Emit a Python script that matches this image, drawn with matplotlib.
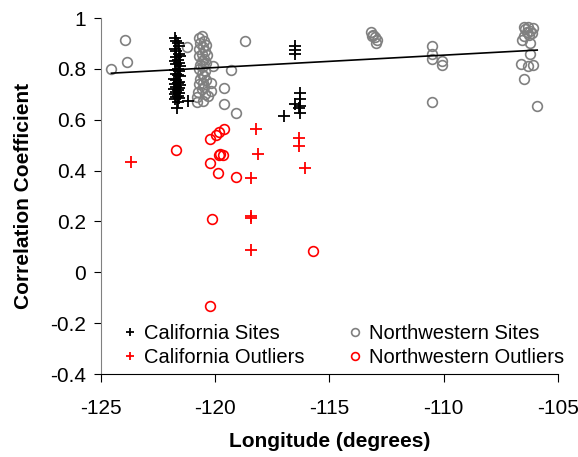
import matplotlib
matplotlib.use("Agg")
import matplotlib.pyplot as plt
import numpy as np

plt.rcParams["font.family"] = ["Liberation Sans", "DejaVu Sans"]
plt.rcParams["axes.unicode_minus"] = False

# California sites (black +)
ca_lon = [-121.75, -121.7, -121.65, -121.6, -121.75, -121.7, -121.6, -121.55, -121.7, -121.65,
          -121.75, -121.6, -121.7, -121.55, -121.65, -121.75, -121.6, -121.7, -121.65, -121.55,
          -121.8, -121.7, -121.6, -121.65, -121.75, -121.55, -121.7, -121.6, -121.8, -121.65,
          -121.7, -121.6, -121.75, -121.65, -121.7, -121.6, -121.75, -121.65,
          -121.2, -121.67,
          -116.5, -116.5, -116.5,
          -116.3, -116.3, -116.5, -116.3, -116.35, -116.3, -117.0]
ca_r = [0.92, 0.91, 0.90, 0.89, 0.88, 0.87, 0.86, 0.85, 0.845, 0.835,
        0.83, 0.825, 0.82, 0.81, 0.80, 0.795, 0.79, 0.78, 0.775, 0.77,
        0.76, 0.755, 0.75, 0.745, 0.74, 0.735, 0.73, 0.725, 0.72, 0.715,
        0.71, 0.705, 0.70, 0.695, 0.69, 0.685, 0.68, 0.67,
        0.675, 0.645,
        0.89, 0.875, 0.86,
        0.705, 0.68, 0.66, 0.655, 0.645, 0.625, 0.615]

# California outliers (red +)
cao_lon = [-123.7, -118.2, -118.15, -118.45, -118.45, -118.45, -118.45, -116.35, -116.35, -116.05]
cao_r = [0.435, 0.565, 0.465, 0.37, 0.22, 0.215, 0.087, 0.528, 0.496, 0.41]

# Northwestern sites (grey o)
nw_lon = [-124.55, -123.95, -123.85, -121.25, -118.7,
          -120.6, -120.7, -120.5, -120.65, -120.4, -120.55, -120.7, -120.45, -120.6, -120.35,
          -120.7, -120.5, -120.6, -120.4, -120.65, -120.55, -120.7, -120.45, -120.6, -120.5,
          -120.65, -120.4, -120.55, -120.7, -120.5, -120.6, -120.75, -120.45, -120.8, -120.55,
          -120.1, -119.3, -120.2, -120.2, -119.6, -120.3, -119.6, -119.1, -120.8,
          -113.2, -113.1, -113.0, -112.9, -113.15, -112.95,
          -110.5, -110.5, -110.5, -110.05, -110.05, -110.5,
          -106.5, -106.3, -106.1, -106.45, -106.2, -106.35, -106.15, -106.5, -106.25,
          -106.55, -106.2, -106.2, -106.6, -106.3, -106.1, -106.5, -105.9]
nw_r = [0.80, 0.913, 0.828, 0.886, 0.909,
        0.93, 0.92, 0.91, 0.90, 0.895, 0.885, 0.88, 0.87, 0.86, 0.855,
        0.85, 0.84, 0.83, 0.825, 0.815, 0.81, 0.80, 0.79, 0.78, 0.77,
        0.76, 0.755, 0.745, 0.74, 0.73, 0.72, 0.71, 0.70, 0.69, 0.675,
        0.81, 0.795, 0.745, 0.714, 0.726, 0.694, 0.663, 0.626, 0.67,
        0.945, 0.935, 0.925, 0.915, 0.93, 0.90,
        0.89, 0.86, 0.84, 0.83, 0.815, 0.67,
        0.965, 0.965, 0.96, 0.955, 0.95, 0.945, 0.94, 0.93, 0.935,
        0.915, 0.90, 0.858, 0.82, 0.81, 0.815, 0.76, 0.653]

# Northwestern outliers (red o)
nwo_lon = [-121.7, -120.25, -119.95, -119.85, -119.6, -119.78, -119.82, -119.66, -120.25,
           -119.88, -119.1, -120.15, -115.7, -120.25]
nwo_r = [0.48, 0.524, 0.54, 0.552, 0.563, 0.467, 0.46, 0.462, 0.43,
         0.392, 0.373, 0.209, 0.083, -0.133]

# linear trend over northwestern sites
fit_lon = [-124.55, -105.9]
fit_slope = 0.00487
fit_icpt = 1.3896

fig = plt.figure(figsize=(5.78, 4.57), dpi=100)
ax = fig.add_axes([0.175, 0.1816, 0.79, 0.779])

ax.plot(nw_lon, nw_r, "o", ms=7, mfc="none", mec="#808080", mew=1.2, ls="none",
        label="Northwestern Sites")
ax.plot(ca_lon, ca_r, "+", ms=8, color="black", mew=1.3, ls="none", label="California Sites")
ax.plot(cao_lon, cao_r, "+", ms=8, color="red", mew=1.3, ls="none", label="California Outliers")
ax.plot(nwo_lon, nwo_r, "o", ms=7, mfc="none", mec="red", mew=1.2, ls="none",
        label="Northwestern Outliers")
fx = np.array(fit_lon)
ax.plot(fx, fit_slope * fx + fit_icpt, color="black", lw=1.2)

ax.set_xlim(-125, -105)
ax.set_ylim(-0.4, 1)
ax.set_xticks([-125, -120, -115, -110, -105])
ax.set_yticks([-0.4, -0.2, 0, 0.2, 0.4, 0.6, 0.8, 1])
ax.set_yticklabels(["-0.4", "-0.2", "0", "0.2", "0.4", "0.6", "0.8", "1"])
ax.spines["top"].set_visible(False)
ax.spines["right"].set_visible(False)
ax.spines["left"].set_color("#808080")
ax.tick_params(labelsize=15, length=5, direction="out")
ax.tick_params(axis="y", pad=6)
ax.tick_params(axis="x", length=6, pad=12)
ax.set_xlabel("Longitude (degrees)", fontsize=15, fontweight="bold", labelpad=10)
ax.set_ylabel("Correlation Coefficient", fontsize=15, fontweight="bold", labelpad=12)

h, l = ax.get_legend_handles_labels()
order = [1, 2, 0, 3]
ax.legend([h[i] for i in order], [l[i] for i in order], ncol=2, loc="lower left",
          frameon=False, fontsize=14.5, markerscale=0.8, handlelength=0.6,
          handletextpad=0.4, columnspacing=2.2, labelspacing=0.25,
          borderpad=0, borderaxespad=0, bbox_to_anchor=(0.05, 0.02))

fig.savefig("out.png", dpi=100)
